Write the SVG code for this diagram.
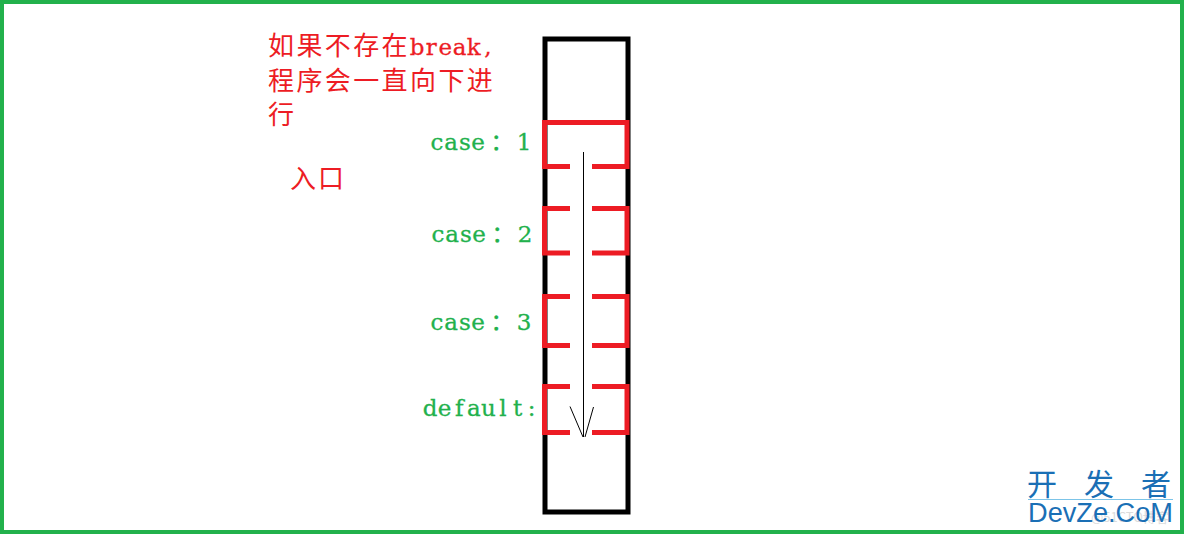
<svg xmlns="http://www.w3.org/2000/svg" width="1184" height="534" viewBox="0 0 1184 534">
<style>
.red{fill:#ed1c24;font-family:"Noto Sans CJK SC","Liberation Serif",serif;font-size:26px}
.lat{font-family:"DejaVu Serif",serif;font-size:23px;text-anchor:middle;stroke:#ed1c24;stroke-width:.3}
.green{fill:#22b14c;stroke:#22b14c;stroke-width:.3;font-family:"DejaVu Serif","Noto Sans CJK SC",serif;font-size:23px;text-anchor:middle}
.box{fill:none;stroke:#ed1c24;stroke-width:5}
.wm{fill:#1a6fb5;font-family:"Noto Sans CJK SC",sans-serif;font-size:30px}
</style>
<rect width="1184" height="534" fill="#fff"/>
<rect id="frame" x="2" y="2" width="1180" height="530" fill="none" stroke="#22b14c" stroke-width="4"/>
<g id="column"><rect x="545" y="39" width="83" height="473" fill="none" stroke="#000" stroke-width="5"/></g>
<g id="case1"><path class="box" d="M570 166.500H544.500V122.500H627V166.500H592"/><text class="green" x="437 451 465 478 502 524" y="150">case：1</text></g>
<g id="case2"><path class="box" d="M570 253H544.500V208.500H570M592 208.500H627V253H592"/><text class="green" x="438 452 466 479 503 525" y="242">case：2</text></g>
<g id="case3"><path class="box" d="M570 345.500H544.500V296.500H570M592 296.500H627V345.500H592"/><text class="green" x="437 451 465 478 502 524" y="330">case：3</text></g>
<g id="default"><path class="box" d="M570 432.500H544.500V386.500H570M592 386.500H627V432.500H592"/><text class="green" x="430 444.600 459.200 473.800 488.400 503 517.600 531.500" y="416">default:</text></g>
<g id="connectors"><path d="M583.500 152V437M570 406.500L583 437M593.500 407L585 437" fill="none" stroke="#000" stroke-width="1"/></g>
<g id="labels">
<text class="red" y="55"><tspan x="268">如</tspan><tspan x="296.400">果</tspan><tspan x="324.800">不</tspan><tspan x="353.200">存</tspan><tspan x="381.600">在</tspan><tspan class="lat" x="417 431.200 445.400 459.600 473.800 488">break,</tspan></text>
<text class="red" y="90"><tspan x="268">程</tspan><tspan x="296.400">序</tspan><tspan x="324.800">会</tspan><tspan x="353.200">一</tspan><tspan x="381.600">直</tspan><tspan x="410">向</tspan><tspan x="438.400">下</tspan><tspan x="466.800">进</tspan></text>
<text class="red" x="268" y="124">行</text>
<text class="red" y="188"><tspan x="290">入</tspan><tspan x="318">口</tspan></text>
</g>
<g id="watermark">
<text x="1091" y="522" fill="#dcdcdc" font-family="Noto Sans CJK SC, sans-serif" font-size="13">@51CTO博客</text>
<text class="wm" x="1027" y="495">开</text><text class="wm" x="1084" y="495">发</text><text class="wm" x="1141" y="495">者</text>
<line x1="1028" y1="499.500" x2="1173" y2="499.500" stroke="#7cc4e8" stroke-width="1"/>
<text x="1028" y="521.500" fill="#1a6fb5" font-family="Liberation Sans, sans-serif" font-size="27" textLength="145" lengthAdjust="spacingAndGlyphs">DevZe.CoM</text>
</g>
</svg>
